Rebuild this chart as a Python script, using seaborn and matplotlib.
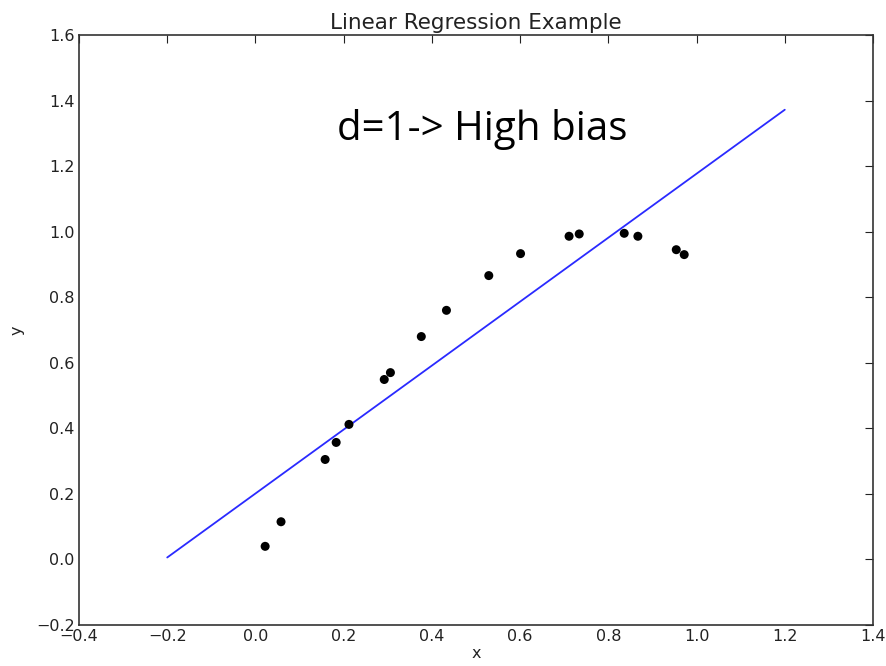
import numpy as np
import pandas as pd
import matplotlib
matplotlib.use("Agg")
import matplotlib.pyplot as plt
import seaborn as sns

# data points
x_pts = [0.022, 0.058, 0.158, 0.183, 0.212, 0.292, 0.306, 0.376, 0.433,
         0.529, 0.601, 0.711, 0.734, 0.836, 0.867, 0.954, 0.972]
y_pts = [0.040, 0.115, 0.305, 0.357, 0.412, 0.549, 0.570, 0.680, 0.760,
         0.866, 0.933, 0.986, 0.993, 0.995, 0.986, 0.945, 0.930]

# fitted line (degree 1)
line_x = [-0.2, 1.2]
line_y = [0.006, 1.372]

x_ticks = [-0.4, -0.2, 0.0, 0.2, 0.4, 0.6, 0.8, 1.0, 1.2, 1.4]
y_ticks = [-0.2, 0.0, 0.2, 0.4, 0.6, 0.8, 1.0, 1.2, 1.4, 1.6]

sns.set_style("white")
plt.rcParams['font.family'] = ['DejaVu Sans']

fig = plt.figure(figsize=(8.86, 6.66), dpi=100)
ax = fig.add_axes([79/886, 1-625/666, (873-79)/886, (625-35)/666])

pts = pd.DataFrame({"x": x_pts, "y": y_pts})
ln = pd.DataFrame({"x": line_x, "y": line_y})

sns.lineplot(data=ln, x="x", y="y", ax=ax, color="#2a2aff", linewidth=1.3)
sns.scatterplot(data=pts, x="x", y="y", ax=ax, color="black", s=42, edgecolor="none", zorder=3)

ax.set_xlim(-0.4, 1.4)
ax.set_ylim(-0.2, 1.6)
ax.set_xticks(x_ticks)
ax.set_yticks(y_ticks)
ax.set_xticklabels(["\u22120.4", "\u22120.2", "0.0", "0.2", "0.4", "0.6", "0.8", "1.0", "1.2", "1.4"])
ax.set_yticklabels(["\u22120.2", "0.0", "0.2", "0.4", "0.6", "0.8", "1.0", "1.2", "1.4", "1.6"])
ax.tick_params(direction="in", length=6, width=0.8, top=True, right=True,
               labelsize=11.5, colors="#222222", pad=3)
for s in ax.spines.values():
    s.set_visible(True)
    s.set_color("#333333")
    s.set_linewidth(1.2)

ax.set_xlabel("x", fontsize=11.5, color="#222222", labelpad=1)
ax.set_ylabel("y", fontsize=11.5, color="#222222", labelpad=8)
ax.set_title("Linear Regression Example", fontsize=15.5, color="#222222", pad=4)

ax.text(0.508, 0.84, "d=1-> High bias", transform=ax.transAxes, ha="center", va="center",
        fontsize=29, family=["Open Sans", "DejaVu Sans"], color="black")

fig.savefig("out.png", dpi=100)
